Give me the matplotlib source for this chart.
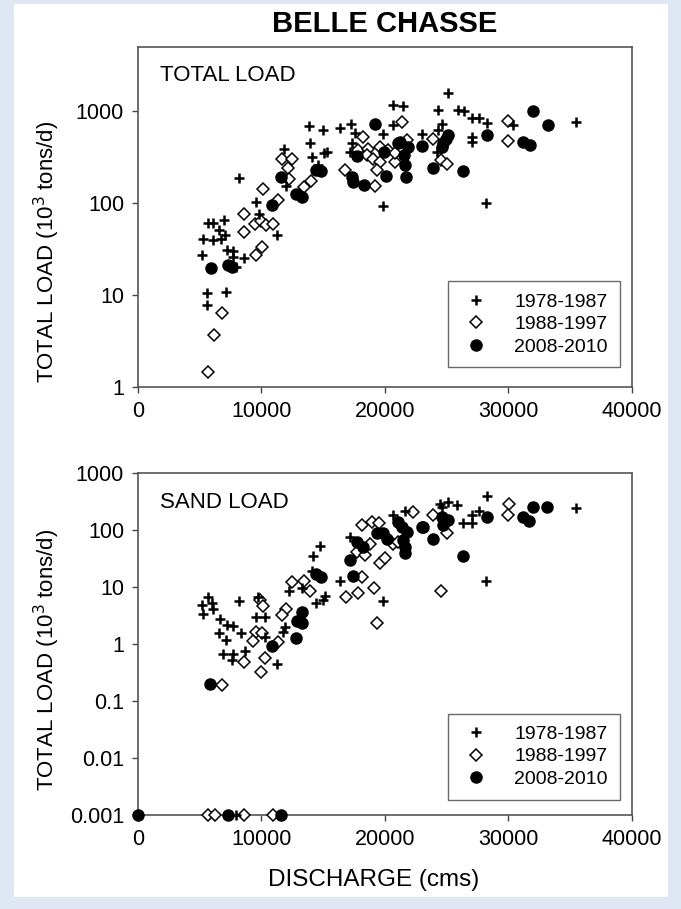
import numpy as np
import matplotlib
matplotlib.use("Agg")
import matplotlib.pyplot as plt
from matplotlib.patches import Rectangle
from matplotlib.ticker import NullLocator

plt.rcParams["font.family"] = ["Liberation Sans", "DejaVu Sans"]

# ---- TOTAL LOAD (10^3 tons/d) vs discharge (cms) ----
tot_7887_q = [8205, 9558, 9825, 5670, 6075, 6966, 6585, 5289, 6099, 6723, 7047, 11235, 5160,
              7233, 7719, 8610, 7671, 7938, 5565, 7128, 5565,
              20680, 20630, 13875, 15010, 16362, 17253, 17577, 19870, 13932, 17310, 11826,
              14070, 15066, 15333, 17172, 14556, 11964, 19870,
              25135, 21490, 24325, 25896, 26430, 27030, 27645, 28245, 30400, 24600, 22980,
              24325, 27030, 27080, 24195, 28190, 35450]
tot_7887_l = [188, 102, 76, 61, 61, 65, 51, 41, 40, 41, 45, 45, 27,
              31, 30, 25, 26, 20, 10.4, 10.9, 7.7,
              1183, 717, 687, 622, 665, 735, 587, 572, 446, 446, 393,
              319, 347, 361, 361, 259, 153, 93,
              1581, 1133, 1044, 1044, 1000, 846, 853, 746, 717, 735, 572,
              622, 526, 464, 361, 101, 765]

tot_8897_q = [10100, 11640, 11316, 8562, 9477, 9963, 10368, 10959, 8586, 10044, 9558, 6780,
              6180, 5646,
              18200, 17844, 18654, 19602, 20274, 18525, 19060, 12500, 19602, 20817, 12174,
              16767, 19335, 12231, 13470, 13989, 19197,
              29995, 21408, 23870, 29995, 21765, 20817, 24543, 25054]
tot_8897_l = [141, 306, 108, 77, 59, 64, 58, 60, 48, 33, 27, 6.4,
              3.7, 1.47,
              526, 377, 393, 409, 383, 332, 306, 301, 281, 281, 244,
              232, 232, 185, 150, 175, 154,
              779, 765, 505, 472, 484, 352, 293, 265]

tot_0810_q = [11560, 10830, 5913, 7266, 7590,
              19197, 21084, 19950, 17715, 14418, 14823, 17310, 17440, 20088, 18330, 12798, 13260,
              32020, 33185, 25135, 24948, 24730, 24600, 22980, 28293, 31160, 31750, 21220,
              21895, 21546, 21627, 21684, 23870, 26350]
tot_0810_l = [193, 95, 19.5, 21, 20,
              735, 446, 361, 324, 228, 223, 193, 170, 197, 157, 127, 117,
              1008, 704, 548, 505, 446, 409, 417, 548, 464, 427, 464,
              409, 332, 259, 193, 244, 224]

# ---- SAND LOAD ----
sand_7887_q = [5694, 5160, 5970, 6099, 5241, 8205, 9744, 6642, 7185, 7671, 9558, 10287, 11907,
               11770, 6561, 7128, 8319, 10287, 6861, 7671, 8667, 7590, 11235,
               20630, 17172, 14742, 14150, 14070, 16362, 12255, 13260, 19870, 14418, 15147,
               14960, 21600,
               24460, 25135, 25863, 28245, 35450, 27030, 27645, 26350, 27030, 28190, 24600,
               7940]
sand_7887_l = [6.6, 4.8, 5.2, 4.1, 3.4, 5.7, 6.8, 2.8, 2.2, 2.07, 3.0, 3.0, 2.0,
               1.64, 1.54, 1.17, 1.54, 1.31, 0.67, 0.67, 0.75, 0.52, 0.45,
               183, 76, 53, 35, 19, 13, 8.6, 9.5, 5.8, 5.2, 7.0,
               5.9, 220,
               286, 313, 275, 400, 248, 183, 218, 131, 131, 12.9, 256,
               0.001]

sand_8897_q = [9882, 10100, 11988, 11640, 9558, 10020, 9339, 11316, 8610, 10287, 9963, 6780,
               22250, 18120, 18930, 19545, 18792, 17763, 18387, 20680, 21084, 19600, 20007,
               18120, 12498, 13446, 13932, 19116, 17844, 16848, 19335,
               30075, 30000, 23870, 25005, 24500,
               5630, 6200, 8590, 10935]
sand_8897_l = [5.9, 4.6, 4.2, 3.2, 1.64, 1.58, 1.14, 1.10, 0.48, 0.58, 0.32, 0.19,
               210, 122, 140, 131, 58, 42, 36, 58, 62, 26, 32,
               15, 12.4, 12.6, 8.6, 9.5, 7.9, 6.8, 2.3,
               286, 187, 180, 87, 8.5,
               0.001, 0.001, 0.001, 0.001]

sand_0810_q = [13260, 12855, 13260, 12798, 10830, 5832,
               21084, 21360, 21765, 22980, 19335, 19870, 20145, 17715, 18250, 21490, 21627,
               21627, 17172, 14418, 14800, 17390,
               32020, 33130, 31160, 31700, 28290, 24600, 25135, 24730, 23060, 23870, 26300,
               0, 7250, 11620]
sand_0810_l = [3.7, 2.5, 2.3, 1.29, 0.92, 0.196,
               140, 114, 93, 114, 87, 87, 71, 62, 51, 67, 51,
               39, 30, 17, 14.8, 15.6,
               250, 250, 171, 146, 171, 171, 150, 122, 111, 71, 35,
               0.001, 0.001, 0.001]

periods = ["1978-1987", "1988-1997", "2008-2010"]
x_ticks = [0, 10000, 20000, 30000, 40000]
tot_yticks = [1, 10, 100, 1000]
tot_ylabels = ["1", "10", "100", "1000"]
sand_yticks = [0.001, 0.01, 0.1, 1, 10, 100, 1000]
sand_ylabels = ["0.001", "0.01", "0.1", "1", "10", "100", "1000"]

fig = plt.figure(figsize=(6.81, 9.09), dpi=100)
fig.patch.set_facecolor("#dfe7f4")
bg = Rectangle((14 / 681, 12 / 909), 654 / 681, 893 / 909, transform=fig.transFigure,
               facecolor="white", edgecolor="none", zorder=-10)
fig.add_artist(bg)

ax1 = fig.add_axes([0.2026, 0.5743, 0.7254, 0.374])
ax2 = fig.add_axes([0.2026, 0.1034, 0.7254, 0.3762])

def draw(ax, q1, l1, q2, l2, q3, l3, ylim, yt, ylab, label, leg_y):
    ax.plot(q1, l1, "+", color="black", ms=7, mew=1.8, ls="none", label=periods[0], clip_on=False, zorder=4)
    ax.plot(q2, l2, "D", mfc="white", mec="black", ms=6, mew=1.1, ls="none", label=periods[1], clip_on=False, zorder=3)
    ax.plot(q3, l3, "o", color="black", ms=8, ls="none", label=periods[2], clip_on=False, zorder=5)
    ax.set_yscale("log")
    ax.set_xlim(0, 40000)
    ax.set_ylim(*ylim)
    ax.set_xticks(x_ticks, [str(v) for v in x_ticks])
    ax.set_yticks(yt, ylab)
    ax.yaxis.set_minor_locator(NullLocator())
    ax.tick_params(labelsize=15.5, length=4, width=1, direction="out", colors="#444444",
                   labelcolor="black", pad=6)
    for s in ax.spines.values():
        s.set_color("#555555")
        s.set_linewidth(1.2)
    ax.text(0.045, 0.915, label, transform=ax.transAxes, fontsize=16, va="center", ha="left")
    leg = ax.legend(loc="lower right", bbox_to_anchor=(0.975, leg_y),
                    fontsize=14, frameon=True, fancybox=False, edgecolor="#444444",
                    handletextpad=1.2, borderpad=0.6, labelspacing=0.25, handlelength=1.6,
                    borderaxespad=0)
    leg.get_frame().set_linewidth(1.0)

draw(ax1, tot_7887_q, tot_7887_l, tot_8897_q, tot_8897_l, tot_0810_q, tot_0810_l,
     (1, 5000), tot_yticks, tot_ylabels, "TOTAL LOAD", 0.058)
draw(ax2, sand_7887_q, sand_7887_l, sand_8897_q, sand_8897_l, sand_0810_q, sand_0810_l,
     (0.001, 1000), sand_yticks, sand_ylabels, "SAND LOAD", 0.045)

fig.text(0.565, 0.974, "BELLE CHASSE", ha="center", va="center", fontsize=21, fontweight="bold")
fig.text(0.069, 0.7228, "TOTAL LOAD (10$^3$ tons/d)", rotation=90, ha="center", va="center", fontsize=16)
fig.text(0.069, 0.2739, "TOTAL LOAD (10$^3$ tons/d)", rotation=90, ha="center", va="center", fontsize=16)
fig.text(0.549, 0.032, "DISCHARGE (cms)", ha="center", va="center", fontsize=17.5)

fig.savefig("out.png", dpi=100, facecolor=fig.get_facecolor())
